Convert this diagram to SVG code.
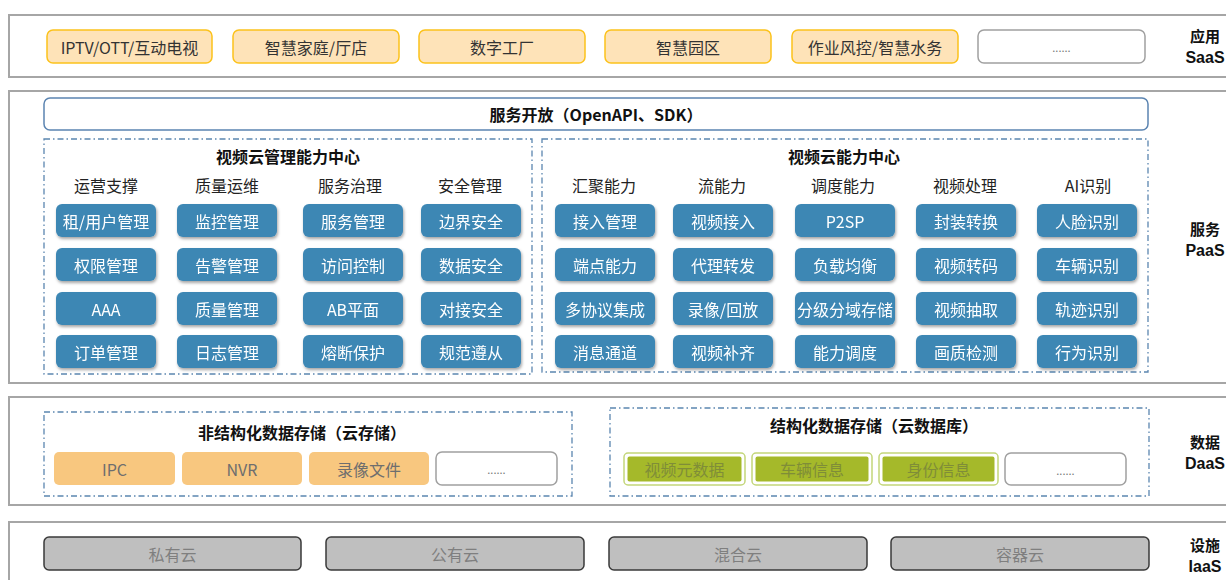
<svg xmlns="http://www.w3.org/2000/svg" width="1226" height="580" viewBox="0 0 1226 580">
<defs>
<filter id="sh" x="-10%" y="-20%" width="125%" height="160%">
<feDropShadow dx="1" dy="2" stdDeviation="1.5" flood-color="#000" flood-opacity="0.35"/>
</filter>
<style>
text{font-family:"Noto Sans CJK SC","Liberation Sans",sans-serif;font-size:16px;text-anchor:middle;dominant-baseline:central}
.layer{fill:#fff;stroke:#a6a6a6;stroke-width:2}
.lbl{font-weight:bold;fill:#111;font-size:15px}
.lbl2{font-weight:bold;fill:#111;font-family:"Liberation Sans",sans-serif;font-size:16px}
.saas{fill:#fee3b8;stroke:#fcc21b;stroke-width:1.5}
.saast{fill:#333}
.more{fill:#fff;stroke:#a0a0a0;stroke-width:1.5}
.moret{fill:#777;font-size:11px}
.dash{fill:none;stroke:#5b86b0;stroke-width:1.3;stroke-dasharray:6 3 1.5 3}
.title{font-weight:bold;fill:#111}
.hdr{fill:#222}
.btn{fill:#3d87b4}
.btnt{fill:#fff}
.org{fill:#f8c77f}
.orgt{fill:#6e6e6e}
.grnO{fill:#fff;stroke:#c3d67a;stroke-width:1.5}
.grn{fill:#a5b92a}
.grnt{fill:#7f8d38}
.iaas{fill:#bfbfbf;stroke:#3a3a3a;stroke-width:1.5}
.iaast{fill:#7f7f7f}
</style>
</defs>
<rect width="1226" height="580" fill="#fff"/>

<!-- Layers -->
<g id="layer-saas">
<rect class="layer" x="9" y="15" width="1230" height="62"/>
<text class="lbl" x="1205" y="35">应用</text>
<text class="lbl2" x="1205" y="57">SaaS</text>
</g>
<g id="layer-paas">
<rect class="layer" x="9" y="91" width="1230" height="292"/>
<text class="lbl" x="1205" y="228">服务</text>
<text class="lbl2" x="1205" y="250">PaaS</text>
</g>
<g id="layer-daas">
<rect class="layer" x="9" y="397" width="1230" height="108"/>
<text class="lbl" x="1205" y="441">数据</text>
<text class="lbl2" x="1205" y="463">DaaS</text>
</g>
<g id="layer-iaas">
<rect class="layer" x="9" y="522" width="1230" height="70"/>
<text class="lbl" x="1205" y="544">设施</text>
<text class="lbl2" x="1205" y="566">IaaS</text>
</g>

<!-- SaaS items -->
<g id="saas-iptv"><rect class="saas" x="47" y="30" width="165" height="33" rx="6"/><text class="saast" x="129.5" y="46.5">IPTV/OTT/互动电视</text></g>
<g id="saas-home"><rect class="saas" x="233" y="30" width="166" height="33" rx="6"/><text class="saast" x="316" y="46.5">智慧家庭/厅店</text></g>
<g id="saas-factory"><rect class="saas" x="419" y="30" width="166" height="33" rx="6"/><text class="saast" x="502" y="46.5">数字工厂</text></g>
<g id="saas-park"><rect class="saas" x="605" y="30" width="166" height="33" rx="6"/><text class="saast" x="688" y="46.5">智慧园区</text></g>
<g id="saas-water"><rect class="saas" x="792" y="30" width="166" height="33" rx="6"/><text class="saast" x="875" y="46.5">作业风控/智慧水务</text></g>
<g id="saas-more"><rect class="more" x="978" y="30" width="167" height="33" rx="6"/><text class="moret" x="1061.5" y="47">......</text></g>

<!-- API -->
<g id="api"><rect x="44" y="98" width="1104" height="32" rx="6" fill="#fff" stroke="#5b84b1" stroke-width="1.5"/><text class="title" x="596" y="114">服务开放（OpenAPI、SDK）</text></g>

<!-- Management center -->
<g id="mgmt-center">
<rect class="dash" x="44" y="139" width="488" height="235"/>
<text class="title" x="288" y="156">视频云管理能力中心</text>
<text class="hdr" x="106" y="185">运营支撑</text>
<text class="hdr" x="227" y="185">质量运维</text>
<text class="hdr" x="350" y="185">服务治理</text>
<text class="hdr" x="470" y="185">安全管理</text>
</g>
<g filter="url(#sh)">
<g id="m-tenant"><rect class="btn" x="56" y="204" width="100" height="33" rx="6"/><text class="btnt" x="106" y="220.5">租/用户管理</text></g>
<g id="m-perm"><rect class="btn" x="56" y="248" width="100" height="33" rx="6"/><text class="btnt" x="106" y="264.5">权限管理</text></g>
<g id="m-aaa"><rect class="btn" x="56" y="292" width="100" height="33" rx="6"/><text class="btnt" x="106" y="308.5">AAA</text></g>
<g id="m-order"><rect class="btn" x="56" y="335" width="100" height="33" rx="6"/><text class="btnt" x="106" y="351.5">订单管理</text></g>
<g id="m-monitor"><rect class="btn" x="177" y="204" width="100" height="33" rx="6"/><text class="btnt" x="227" y="220.5">监控管理</text></g>
<g id="m-alarm"><rect class="btn" x="177" y="248" width="100" height="33" rx="6"/><text class="btnt" x="227" y="264.5">告警管理</text></g>
<g id="m-quality"><rect class="btn" x="177" y="292" width="100" height="33" rx="6"/><text class="btnt" x="227" y="308.5">质量管理</text></g>
<g id="m-log"><rect class="btn" x="177" y="335" width="100" height="33" rx="6"/><text class="btnt" x="227" y="351.5">日志管理</text></g>
<g id="m-service"><rect class="btn" x="303" y="204" width="100" height="33" rx="6"/><text class="btnt" x="353" y="220.5">服务管理</text></g>
<g id="m-access"><rect class="btn" x="303" y="248" width="100" height="33" rx="6"/><text class="btnt" x="353" y="264.5">访问控制</text></g>
<g id="m-ab"><rect class="btn" x="303" y="292" width="100" height="33" rx="6"/><text class="btnt" x="353" y="308.5">AB平面</text></g>
<g id="m-fuse"><rect class="btn" x="303" y="335" width="100" height="33" rx="6"/><text class="btnt" x="353" y="351.5">熔断保护</text></g>
<g id="m-border"><rect class="btn" x="421" y="204" width="100" height="33" rx="6"/><text class="btnt" x="471" y="220.5">边界安全</text></g>
<g id="m-data"><rect class="btn" x="421" y="248" width="100" height="33" rx="6"/><text class="btnt" x="471" y="264.5">数据安全</text></g>
<g id="m-dock"><rect class="btn" x="421" y="292" width="100" height="33" rx="6"/><text class="btnt" x="471" y="308.5">对接安全</text></g>
<g id="m-comply"><rect class="btn" x="421" y="335" width="100" height="33" rx="6"/><text class="btnt" x="471" y="351.5">规范遵从</text></g>
</g>

<!-- Capability center -->
<g id="cap-center">
<rect class="dash" x="542" y="139" width="606" height="233"/>
<text class="title" x="844" y="156">视频云能力中心</text>
<text class="hdr" x="604" y="185">汇聚能力</text>
<text class="hdr" x="722" y="185">流能力</text>
<text class="hdr" x="843" y="185">调度能力</text>
<text class="hdr" x="965" y="185">视频处理</text>
<text class="hdr" x="1088" y="185">AI识别</text>
</g>
<g filter="url(#sh)">
<g id="c-access"><rect class="btn" x="555" y="204" width="100" height="33" rx="6"/><text class="btnt" x="605" y="220.5">接入管理</text></g>
<g id="c-endpoint"><rect class="btn" x="555" y="248" width="100" height="33" rx="6"/><text class="btnt" x="605" y="264.5">端点能力</text></g>
<g id="c-proto"><rect class="btn" x="555" y="292" width="100" height="33" rx="6"/><text class="btnt" x="605" y="308.5">多协议集成</text></g>
<g id="c-msg"><rect class="btn" x="555" y="335" width="100" height="33" rx="6"/><text class="btnt" x="605" y="351.5">消息通道</text></g>
<g id="c-vin"><rect class="btn" x="673" y="204" width="100" height="33" rx="6"/><text class="btnt" x="723" y="220.5">视频接入</text></g>
<g id="c-proxy"><rect class="btn" x="673" y="248" width="100" height="33" rx="6"/><text class="btnt" x="723" y="264.5">代理转发</text></g>
<g id="c-rec"><rect class="btn" x="673" y="292" width="100" height="33" rx="6"/><text class="btnt" x="723" y="308.5">录像/回放</text></g>
<g id="c-fill"><rect class="btn" x="673" y="335" width="100" height="33" rx="6"/><text class="btnt" x="723" y="351.5">视频补齐</text></g>
<g id="c-p2sp"><rect class="btn" x="795" y="204" width="100" height="33" rx="6"/><text class="btnt" x="845" y="220.5">P2SP</text></g>
<g id="c-lb"><rect class="btn" x="795" y="248" width="100" height="33" rx="6"/><text class="btnt" x="845" y="264.5">负载均衡</text></g>
<g id="c-store"><rect class="btn" x="795" y="292" width="100" height="33" rx="6"/><text class="btnt" x="845" y="308.5">分级分域存储</text></g>
<g id="c-sched"><rect class="btn" x="795" y="335" width="100" height="33" rx="6"/><text class="btnt" x="845" y="351.5">能力调度</text></g>
<g id="c-pack"><rect class="btn" x="916" y="204" width="100" height="33" rx="6"/><text class="btnt" x="966" y="220.5">封装转换</text></g>
<g id="c-trans"><rect class="btn" x="916" y="248" width="100" height="33" rx="6"/><text class="btnt" x="966" y="264.5">视频转码</text></g>
<g id="c-extract"><rect class="btn" x="916" y="292" width="100" height="33" rx="6"/><text class="btnt" x="966" y="308.5">视频抽取</text></g>
<g id="c-qc"><rect class="btn" x="916" y="335" width="100" height="33" rx="6"/><text class="btnt" x="966" y="351.5">画质检测</text></g>
<g id="c-face"><rect class="btn" x="1037" y="204" width="100" height="33" rx="6"/><text class="btnt" x="1087" y="220.5">人脸识别</text></g>
<g id="c-car"><rect class="btn" x="1037" y="248" width="100" height="33" rx="6"/><text class="btnt" x="1087" y="264.5">车辆识别</text></g>
<g id="c-track"><rect class="btn" x="1037" y="292" width="100" height="33" rx="6"/><text class="btnt" x="1087" y="308.5">轨迹识别</text></g>
<g id="c-behav"><rect class="btn" x="1037" y="335" width="100" height="33" rx="6"/><text class="btnt" x="1087" y="351.5">行为识别</text></g>
</g>

<!-- DaaS -->
<g id="unstructured">
<rect class="dash" x="44" y="412" width="528" height="84"/>
<text class="title" x="302" y="432">非结构化数据存储（云存储）</text>
</g>
<g id="d-ipc"><rect class="org" x="54" y="452" width="121" height="33" rx="5"/><text class="orgt" x="114.5" y="468.5">IPC</text></g>
<g id="d-nvr"><rect class="org" x="182" y="452" width="120" height="33" rx="5"/><text class="orgt" x="242" y="468.5">NVR</text></g>
<g id="d-recfile"><rect class="org" x="309" y="452" width="120" height="33" rx="5"/><text class="orgt" x="369" y="468.5">录像文件</text></g>
<g id="d-more1"><rect class="more" x="436" y="452" width="121" height="33" rx="6"/><text class="moret" x="496.5" y="469">......</text></g>

<g id="structured">
<rect class="dash" x="610" y="408" width="539" height="88"/>
<text class="title" x="874" y="425">结构化数据存储（云数据库）</text>
</g>
<g id="d-meta"><rect class="grnO" x="624" y="453" width="121" height="32" rx="4"/><rect class="grn" x="627.5" y="456.5" width="114" height="25" rx="2"/><text class="grnt" x="684.5" y="469">视频元数据</text></g>
<g id="d-vehicle"><rect class="grnO" x="752" y="453" width="120" height="32" rx="4"/><rect class="grn" x="755.5" y="456.5" width="113" height="25" rx="2"/><text class="grnt" x="812" y="469">车辆信息</text></g>
<g id="d-id"><rect class="grnO" x="879" y="453" width="119" height="32" rx="4"/><rect class="grn" x="882.5" y="456.5" width="112" height="25" rx="2"/><text class="grnt" x="938.5" y="469">身份信息</text></g>
<g id="d-more2"><rect class="more" x="1005" y="453" width="121" height="32" rx="6"/><text class="moret" x="1065.5" y="469.5">......</text></g>

<!-- IaaS -->
<g id="i-private"><rect class="iaas" x="44" y="537" width="257" height="33" rx="5"/><text class="iaast" x="172.5" y="553.5">私有云</text></g>
<g id="i-public"><rect class="iaas" x="326" y="537" width="258" height="33" rx="5"/><text class="iaast" x="455" y="553.5">公有云</text></g>
<g id="i-hybrid"><rect class="iaas" x="609" y="537" width="258" height="33" rx="5"/><text class="iaast" x="738" y="553.5">混合云</text></g>
<g id="i-container"><rect class="iaas" x="891" y="537" width="258" height="33" rx="5"/><text class="iaast" x="1020" y="553.5">容器云</text></g>

<g id="connectors"/>
</svg>
